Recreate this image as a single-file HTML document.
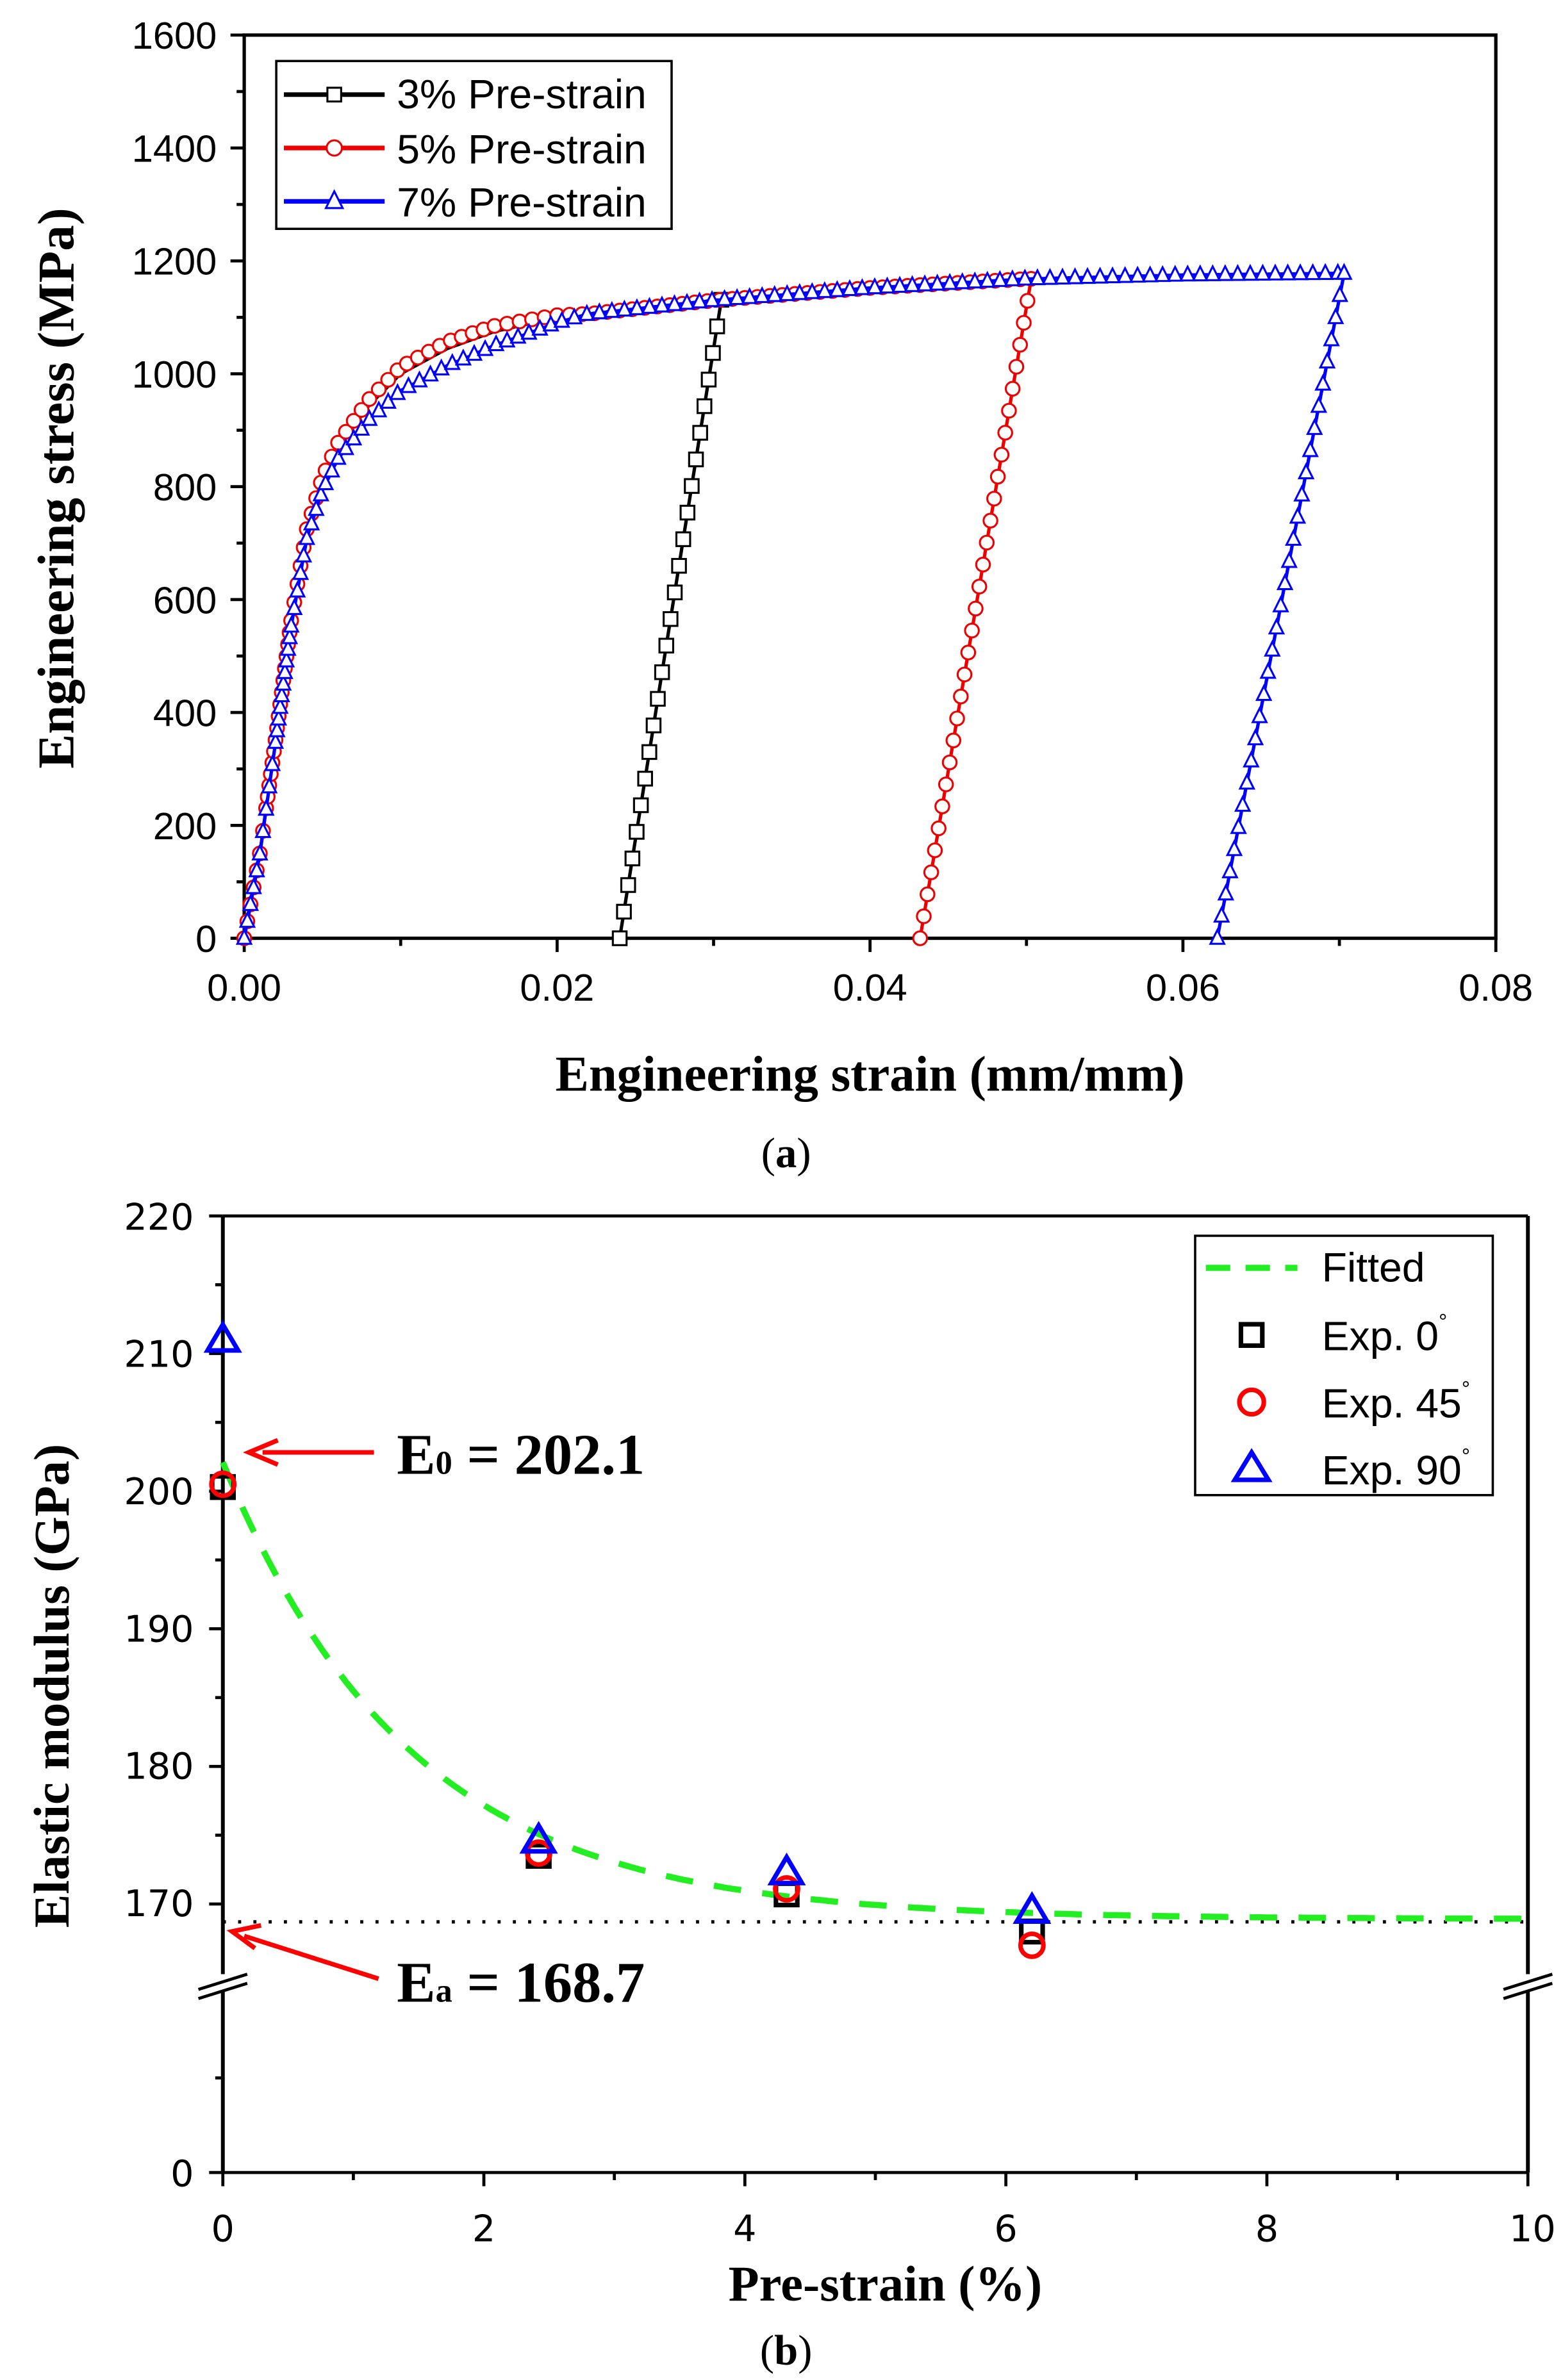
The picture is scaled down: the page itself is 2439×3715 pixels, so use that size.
<!DOCTYPE html>
<html><head><meta charset="utf-8"><style>html,body{margin:0;padding:0;background:#fff}svg{display:block}</style></head><body>
<svg id="s" xmlns="http://www.w3.org/2000/svg" width="2439" height="3715" viewBox="0 0 1024 1560" preserveAspectRatio="none">
<rect width="1024" height="1560" fill="#fff"/>
<g id="g"></g>
<g font-family="Liberation Sans, Arial, sans-serif" font-size="25" fill="#000">
<g text-anchor="end">
<text x="142" y="32">1600</text><text x="142" y="106">1400</text><text x="142" y="180">1200</text><text x="142" y="254">1000</text>
<text x="142" y="328">800</text><text x="142" y="402">600</text><text x="142" y="476">400</text><text x="142" y="550">200</text><text x="142" y="624">0</text>
</g>
<g text-anchor="middle">
<text x="160" y="656">0.00</text><text x="365" y="656">0.02</text><text x="570" y="656">0.04</text><text x="775" y="656">0.06</text><text x="980" y="656">0.08</text>
</g>
<text x="260" y="71" font-size="27">3% Pre-strain</text><text x="260" y="107" font-size="27">5% Pre-strain</text><text x="260" y="142" font-size="27">7% Pre-strain</text>
</g>
<g font-family="Liberation Serif, serif" font-weight="bold" fill="#000">
<text x="570" y="715" font-size="33" text-anchor="middle">Engineering strain (mm/mm)</text>
<text transform="translate(48,320) rotate(-90)" font-size="34" text-anchor="middle">Engineering stress (MPa)</text>
<text transform="translate(45,1105) rotate(-90)" font-size="33" text-anchor="middle">Elastic modulus (GPa)</text>
<text x="580" y="1508" font-size="33" text-anchor="middle">Pre-strain (%)</text>
<text x="260" y="966" font-size="38">E<tspan font-size="22">0</tspan> = 202.1</text>
<text x="260" y="1312" font-size="38">E<tspan font-size="22">a</tspan> = 168.7</text>
</g>
<g font-family="Liberation Serif, serif" font-size="28" fill="#000" text-anchor="middle">
<text x="515" y="765">(<tspan font-weight="bold">a</tspan>)</text>
<text x="515" y="1550">(<tspan font-weight="bold">b</tspan>)</text>
</g>
<g font-family="DejaVu Sans, sans-serif" font-size="24" fill="#000">
<g text-anchor="end">
<text x="127" y="806">220</text><text x="127" y="896">210</text><text x="127" y="986">200</text><text x="127" y="1076">190</text>
<text x="127" y="1166">180</text><text x="127" y="1256">170</text><text x="127" y="1433">0</text>
</g>
<g text-anchor="middle">
<text x="146" y="1469">0</text><text x="317" y="1469">2</text><text x="488" y="1469">4</text><text x="659" y="1469">6</text><text x="830" y="1469">8</text><text x="1004" y="1469">10</text>
</g>
<text x="866" y="840" font-family="Liberation Sans, sans-serif" font-size="27">Fitted</text>
<text x="866" y="885" font-family="Liberation Sans, sans-serif" font-size="27">Exp. 0<tspan font-size="14" dy="-14">°</tspan></text>
<text x="866" y="929" font-family="Liberation Sans, sans-serif" font-size="27">Exp. 45<tspan font-size="14" dy="-14">°</tspan></text>
<text x="866" y="973" font-family="Liberation Sans, sans-serif" font-size="27">Exp. 90<tspan font-size="14" dy="-14">°</tspan></text>
</g>
</svg>
<script>
var g=document.getElementById('g'),h='';
function L(x1,y1,x2,y2,c,w,extra){h+='<line x1="'+x1+'" y1="'+y1+'" x2="'+x2+'" y2="'+y2+'" stroke="'+(c||'#000')+'" stroke-width="'+(w||2)+'" '+(extra||'')+'/>';}
var X0=160,X1=980,Y0=615,Y1=23;
function px(e){return X0+e/0.08*(X1-X0);} function py(s){return Y0-s/1600*(Y0-Y1);}
for(var v=0;v<=1600;v+=100){L(X0,py(v),X0-(v%200?5:9),py(v));}
for(var e=0;e<=0.0801;e+=0.01){var m=Math.round(e*100)%2==0;L(px(e),Y0,px(e),Y0+(m?9:5));}
h+='<rect x="'+X0+'" y="'+Y1+'" width="'+(X1-X0)+'" height="'+(Y0-Y1)+'" fill="none" stroke="#000" stroke-width="2.2"/>';
var P=[[0,0],[0.001,150],[0.002,350],[0.003,560],[0.004,720],[0.005,810],[0.006,870],[0.008,945],[0.010,1000],[0.013,1045],[0.016,1075],[0.02,1100],[0.03,1130],[0.04,1152],[0.05,1168],[0.06,1175],[0.07,1178]];
function sig(e){for(var i=1;i<P.length;i++){if(e<=P[i][0]){var a=P[i-1],b=P[i];return a[1]+(b[1]-a[1])*(e-a[0])/(b[0]-a[0]);}}return P[P.length-1][1];}
function bump(e){return Math.sin(Math.PI*Math.min(e,0.022)/0.022);}
function mk(type,x,y,c,r){if(type=='s')return '<rect x="'+(x-r)+'" y="'+(y-r)+'" width="'+2*r+'" height="'+2*r+'" fill="#fff" stroke="'+c+'" stroke-width="1.3"/>';
if(type=='c')return '<circle cx="'+x+'" cy="'+y+'" r="'+r+'" fill="#fff" stroke="'+c+'" stroke-width="1.3"/>';
return '<polygon points="'+x+','+(y-r*1.2)+' '+(x-r)+','+(y+r*0.8)+' '+(x+r)+','+(y+r*0.8)+'" fill="#fff" stroke="'+c+'" stroke-width="1.3"/>';}
function series(emax,e0,col,type,amp,dens){
 var pts=[],mks='';
 for(var e=0;e<=emax;e+=0.0001)pts.push([px(e),py(sig(e)*(1+amp*bump(e)))]);
 var smax=sig(emax);pts.push([px(emax),py(smax)]);pts.push([px(e0),py(0)]);
 h+='<polyline points="'+pts.map(function(p){return p[0].toFixed(1)+','+p[1].toFixed(1)}).join(' ')+'" fill="none" stroke="'+col+'" stroke-width="2.2"/>';
 if(type!='s'){var acc=99,lp=null;for(var i=0;i<pts.length-1;i++){var p=pts[i];if(lp){acc+=Math.hypot(p[0]-lp[0],p[1]-lp[1]);}lp=p;if(acc>=7.5){mks+=mk(type,p[0],p[1],col,4.5);acc=0;}}}
 for(var i=0;i<=dens;i++){var t=i/dens;mks+=mk(type,px(emax-(emax-e0)*t),py(smax*(1-t)),col,4.5);}
 h+=mks;}
series(0.0305,0.0240,'#000','s',0,24);
series(0.0503,0.0432,'#e00','c',0.012,30);
series(0.0703,0.0622,'#00f','t',-0.03,30);
h+='<rect x="181" y="40" width="259" height="110" fill="#fff" stroke="#000" stroke-width="1.5"/>';
L(186,62,252,62,'#000',3);h+=mk('s',219,62,'#000',4.5);
L(186,97,252,97,'#e00',3);h+=mk('c',219,97,'#e00',5);
L(186,132,252,132,'#00f',3);h+=mk('t',219,132,'#00f',5.5);
var BX0=146,BX1=1001;function bx(v){return BX0+v/10*(BX1-BX0);} function by(v){return 1248-(v-170)*9.02;}
L(BX0,797,BX1,797,'#000',2);L(BX0,1424,BX1,1424,'#000',2);
L(BX0,797,BX0,1294,'#000',2.5);L(BX0,1305,BX0,1424,'#000',2.5);
L(BX1,797,BX1,1294,'#000',2.5);L(BX1,1305,BX1,1424,'#000',2.5);
L(BX0-16,1304,BX0+16,1294,'#000',2);L(BX0-16,1310,BX0+16,1300,'#000',2);
L(BX1-16,1304,BX1+16,1294,'#000',2);L(BX1-16,1310,BX1+16,1300,'#000',2);
for(var v=170;v<=220;v+=5)L(BX0,by(v),BX0-(v%10?5:9),by(v));
L(BX0,1424,BX0-9,1424);L(BX0,1362,BX0-5,1362);
for(var i=0;i<=10;i++)L(bx(i),1424,bx(i),1424+(i%2?5:9));
L(BX0,by(168.7),BX1,by(168.7),'#000',2.2,'stroke-dasharray="2,8"');
var fp=[];for(var x=0;x<=10;x+=0.05)fp.push(bx(x).toFixed(1)+','+by(168.9+33.2*Math.exp(-x/1.44)).toFixed(1));
h+='<polyline points="'+fp.join(' ')+'" fill="none" stroke="#22ee22" stroke-width="4" stroke-dasharray="18,14"/>';
function sq(x,v){var X=bx(x),Y=by(v);h+='<rect x="'+(X-7)+'" y="'+(Y-7)+'" width="14" height="14" fill="none" stroke="#000" stroke-width="3"/>';}
function ci(x,v){h+='<circle cx="'+bx(x)+'" cy="'+by(v)+'" r="7.5" fill="none" stroke="#f00" stroke-width="3"/>';}
function tr(x,v){var X=bx(x),Y=by(v);h+='<polygon points="'+X+','+(Y-10)+' '+(X-10)+','+(Y+7)+' '+(X+10)+','+(Y+7)+'" fill="none" stroke="#00f" stroke-width="3"/>';}
sq(0,200.3);sq(2.42,173.5);sq(4.32,170.7);sq(6.2,168);
ci(0,200.5);ci(2.42,173.7);ci(4.32,171.1);ci(6.2,167);
tr(0,211);tr(2.42,174.6);tr(4.32,172.3);tr(6.2,169.5);
h+='<rect x="783" y="810" width="195" height="170" fill="#fff" stroke="#000" stroke-width="1.5"/>';
L(790,831,850,831,'#22ee22',4,'stroke-dasharray="16,10"');
h+='<rect x="813" y="868" width="14" height="14" fill="none" stroke="#000" stroke-width="3"/>';
h+='<circle cx="820" cy="919" r="8" fill="none" stroke="#f00" stroke-width="3"/>';
h+='<polygon points="820,952 809,970 831,970" fill="none" stroke="#00f" stroke-width="3"/>';
L(245,952,172,952,'#f00',3);h+='<polyline points="182,944 163,952 182,960" fill="none" stroke="#f00" stroke-width="3"/>';
L(248,1297,160,1269,'#f00',3);h+='<polyline points="171,1262 152,1266 167,1277" fill="none" stroke="#f00" stroke-width="3"/>';
g.innerHTML=h;
</script>
</body></html>
